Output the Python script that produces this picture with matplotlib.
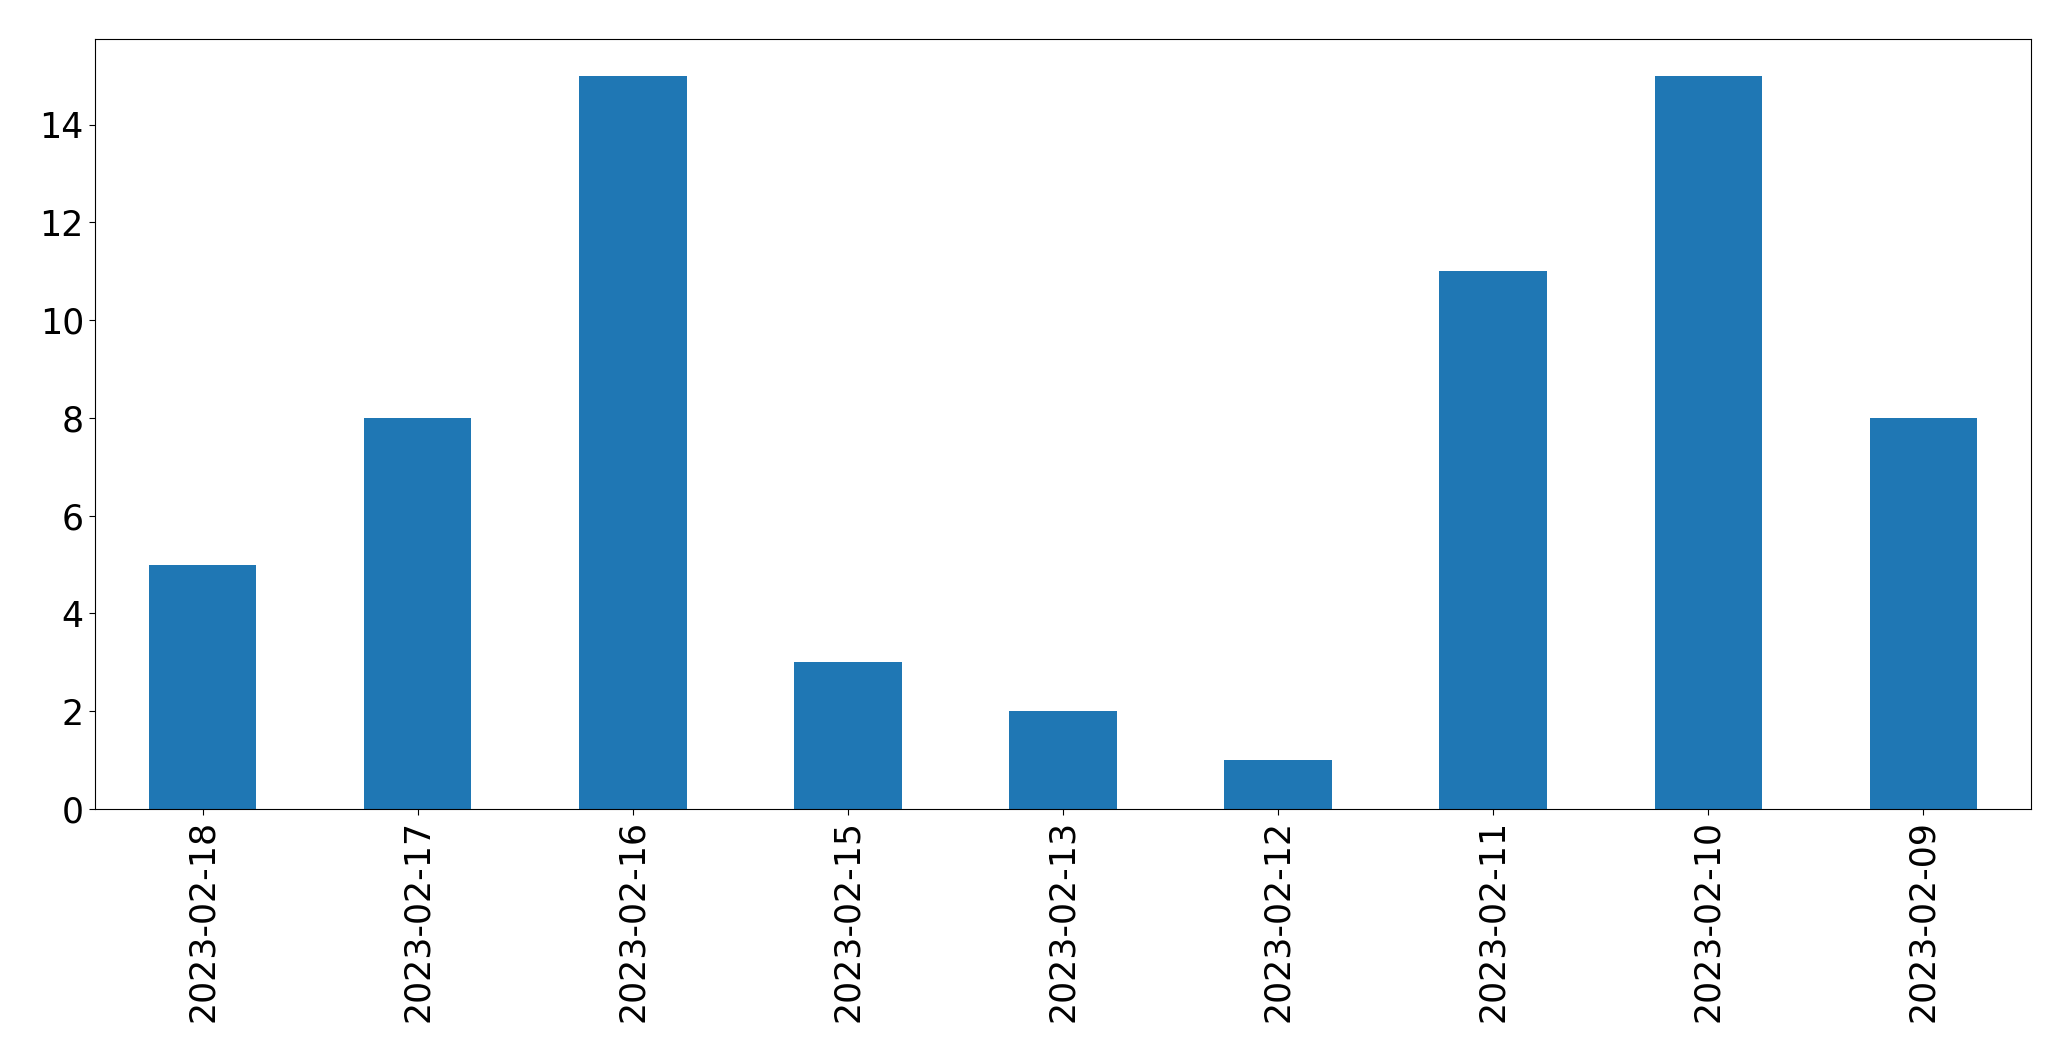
import matplotlib
matplotlib.use("Agg")
import matplotlib.pyplot as plt
import pandas as pd

# counts per day, in the order they appear on the chart
dates = ["2023-02-18", "2023-02-17", "2023-02-16", "2023-02-15", "2023-02-13",
         "2023-02-12", "2023-02-11", "2023-02-10", "2023-02-09"]
counts = [5, 8, 15, 3, 2, 1, 11, 15, 8]

s = pd.Series(counts, index=dates)

fig, ax = plt.subplots(figsize=(20.71, 10.61), dpi=100)
s.plot(kind="bar", ax=ax, color="#1f77b4", fontsize=25)
ax.tick_params(length=4.5)

fig.subplots_adjust(left=95/2071, right=2031/2071, top=1 - 39/1061, bottom=1 - 809/1061)
fig.savefig("out.png", dpi=100)
